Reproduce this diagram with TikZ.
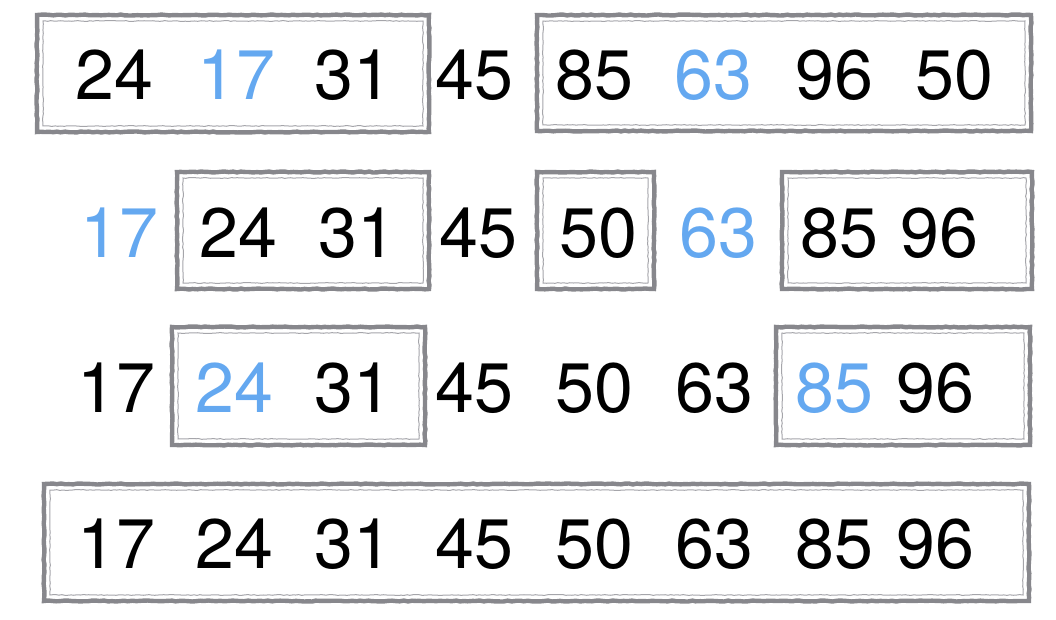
\documentclass[tikz,border=0pt]{standalone}
\usepackage{fontspec}
\setmainfont{TeX Gyre Heros}
\usetikzlibrary{decorations.pathmorphing}
\definecolor{frame}{RGB}{135,135,140}
\definecolor{framelight}{RGB}{165,165,170}
\definecolor{hl}{RGB}{100,168,240}
\tikzset{
  num/.style={anchor=base, inner sep=0pt, font=\fontsize{70}{70}\selectfont},
  blue/.style={num, text=hl},
  outerframe/.style={draw=frame, line width=4.4pt, decorate, decoration={random steps, segment length=4pt, amplitude=0.5pt}},
  innerframe/.style={draw=framelight, line width=1pt, decorate, decoration={random steps, segment length=3pt, amplitude=0.4pt}},
}
\newcommand{\gframe}[4]{%
  \draw[outerframe] (#1,#2) rectangle (#3,#4);
  \draw[innerframe] ({#1+6},{#2+6}) rectangle ({#3-6},{#4-6});
}
\begin{document}
\begin{tikzpicture}[x=1pt,y=-1pt]
\useasboundingbox (0,0) rectangle (1056,620);
% frames
\gframe{37}{15}{429}{132}
\gframe{537}{15}{1031}{131}
\gframe{177}{172}{429}{289}
\gframe{537}{172}{654}{289}
\gframe{782}{172}{1032}{289}
\gframe{172}{327}{425}{445}
\gframe{776}{327}{1030}{445}
\gframe{44}{484}{1029}{601}
% row 1
\node[num]  (a1) at (114,100) {24};
\node[blue] (a2) at (236,100) {17};
\node[num]  (a3) at (353,100) {31};
\node[num]  (a4) at (474,100) {45};
\node[num]  (a5) at (594,100) {85};
\node[blue] (a6) at (713,100) {63};
\node[num]  (a7) at (834,100) {96};
\node[num]  (a8) at (954,100) {50};
% row 2
\node[blue] (b1) at (119,257) {17};
\node[num]  (b2) at (238,257) {24};
\node[num]  (b3) at (357,257) {31};
\node[num]  (b4) at (478,257) {45};
\node[num]  (b5) at (598,257) {50};
\node[blue] (b6) at (718,257) {63};
\node[num]  (b7) at (839,257) {85};
\node[num]  (b8) at (939,257) {96};
% row 3
\node[num]  (c1) at (116,412) {17};
\node[blue] (c2) at (234,412) {24};
\node[num]  (c3) at (353,412) {31};
\node[num]  (c4) at (474,412) {45};
\node[num]  (c5) at (594,412) {50};
\node[num]  (c6) at (714,412) {63};
\node[blue] (c7) at (834,412) {85};
\node[num]  (c8) at (935,412) {96};
% row 4
\node[num] (d1) at (116,568) {17};
\node[num] (d2) at (234,568) {24};
\node[num] (d3) at (353,568) {31};
\node[num] (d4) at (474,568) {45};
\node[num] (d5) at (594,568) {50};
\node[num] (d6) at (714,568) {63};
\node[num] (d7) at (834,568) {85};
\node[num] (d8) at (935,568) {96};
\end{tikzpicture}
\end{document}
